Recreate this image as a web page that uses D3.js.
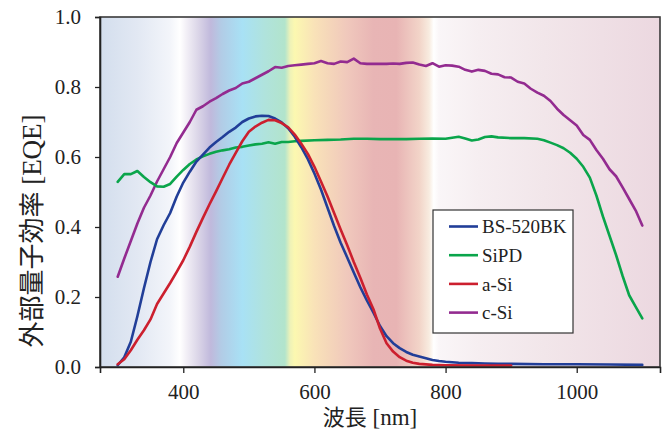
<!DOCTYPE html>
<html>
<head>
<meta charset="utf-8">
<script src="https://cdn.jsdelivr.net/npm/d3@7"></script>
<style>
  html, body { margin: 0; padding: 0; background: #fff; }
  svg { display: block; }
  .serif { font-family: "Liberation Serif", "DejaVu Serif", "Times New Roman", serif; }
  .cjk { font-family: "Noto Sans CJK JP", "Noto Sans CJK SC", sans-serif; }
</style>
</head>
<body>
<svg id="chart" width="669" height="432"></svg>
<script>
// ---- data ----
const xTicks = [400, 600, 800, 1000];
const yTicks = [0, 0.2, 0.4, 0.6, 0.8, 1.0];
const seriesNames = ["BS-520BK", "SiPD", "a-Si", "c-Si"];
const seriesColors = ["#213e98", "#0aa54b", "#cc1f2e", "#932b90"];

const bsWl = [300,310,320,330,340,350,360,370,380,390,400,410,420,430,440,450,460,470,480,490,500,510,520,530,540,550,560,570,580,590,600,610,620,630,640,650,660,670,680,690,700,710,720,730,740,750,760,770,780,790,800,820,840,860,880,900,950,1000,1050,1100];
const bsVal = [0.005,0.028,0.072,0.145,0.225,0.300,0.365,0.405,0.440,0.487,0.527,0.558,0.587,0.607,0.627,0.643,0.657,0.672,0.684,0.700,0.710,0.716,0.718,0.717,0.710,0.699,0.682,0.658,0.628,0.594,0.553,0.507,0.455,0.403,0.355,0.313,0.270,0.228,0.190,0.155,0.117,0.088,0.068,0.054,0.043,0.035,0.030,0.025,0.020,0.017,0.015,0.012,0.011,0.010,0.009,0.009,0.008,0.008,0.007,0.006];

const sipdWl = [300,310,320,330,340,350,360,370,380,390,400,410,420,430,440,450,460,470,480,490,500,510,520,530,540,550,560,570,580,600,620,640,660,680,700,720,740,760,780,800,820,830,840,850,860,870,880,900,920,940,950,960,970,980,990,1000,1010,1020,1030,1040,1050,1060,1070,1080,1090,1100];
const sipdVal = [0.529,0.551,0.551,0.560,0.543,0.528,0.516,0.515,0.523,0.544,0.563,0.580,0.593,0.602,0.609,0.615,0.619,0.622,0.627,0.629,0.633,0.636,0.638,0.642,0.638,0.643,0.643,0.645,0.646,0.648,0.649,0.650,0.652,0.652,0.651,0.651,0.651,0.652,0.653,0.652,0.658,0.653,0.647,0.650,0.657,0.659,0.656,0.654,0.654,0.652,0.648,0.641,0.634,0.625,0.612,0.595,0.572,0.541,0.490,0.430,0.375,0.320,0.260,0.205,0.172,0.139];

const asiWl = [300,310,320,330,340,350,360,370,380,390,400,410,420,430,440,450,460,470,480,490,500,510,520,530,540,550,560,570,580,590,600,610,620,630,640,650,660,670,680,690,700,710,720,730,740,750,760,780,800,850,900];
const asiVal = [0.008,0.022,0.048,0.078,0.105,0.136,0.180,0.210,0.240,0.272,0.305,0.344,0.386,0.426,0.465,0.502,0.540,0.578,0.612,0.645,0.672,0.687,0.698,0.706,0.705,0.697,0.685,0.664,0.638,0.609,0.572,0.530,0.487,0.440,0.393,0.348,0.300,0.255,0.207,0.165,0.110,0.068,0.044,0.028,0.018,0.012,0.009,0.006,0.005,0.004,0.004];

const csiWl = [300,310,320,330,340,350,360,370,380,390,400,410,420,430,440,450,460,470,480,490,500,510,520,530,540,550,560,570,580,590,600,610,620,630,640,650,660,670,680,690,700,710,720,730,740,750,760,770,780,790,800,810,820,830,840,850,860,870,880,890,900,910,920,930,940,950,960,970,980,990,1000,1010,1020,1030,1040,1050,1060,1070,1080,1090,1100];
const csiVal = [0.258,0.310,0.360,0.410,0.455,0.490,0.530,0.565,0.600,0.640,0.670,0.700,0.735,0.745,0.758,0.768,0.780,0.790,0.797,0.810,0.815,0.825,0.835,0.845,0.857,0.855,0.860,0.862,0.864,0.866,0.868,0.874,0.868,0.866,0.873,0.871,0.881,0.868,0.866,0.866,0.866,0.866,0.867,0.866,0.869,0.870,0.864,0.860,0.868,0.858,0.862,0.861,0.858,0.849,0.844,0.849,0.846,0.838,0.836,0.828,0.827,0.815,0.810,0.795,0.784,0.775,0.760,0.738,0.720,0.705,0.690,0.663,0.649,0.620,0.595,0.565,0.545,0.513,0.480,0.447,0.404];

// background spectrum stops (wavelength nm, colour)
const bgWl =  [273,330,380,395,405,425,442,458,490,525,555,563,570,600,650,690,725,760,775,782,790,850,950,1127];
const bgCol = ["#d3deed","#e2e8f3","#f3f5fa","#ffffff","#f2eff6","#d8d2e6","#c0b9dc","#b2cce6","#a8e1f5","#b0e3dc","#b2e4cc","#eef2b8","#fcf8b0","#f9e2b8","#f0c8bc","#e8b5b5","#e8b4b4","#f2d4c8","#f8ece0","#ffffff","#faf6f8","#f6eef1","#f2e6ea","#ecd8e0"];

// ---- layout ----
const svg = d3.select("#chart");
const L = 100, R = 660, T = 17, B = 367;
const x = d3.scaleLinear().domain([273, 1127]).range([L, R]);
const y = d3.scaleLinear().domain([0, 1]).range([B, T]);

// gradient
const defs = svg.append("defs");
const grad = defs.append("linearGradient").attr("id", "spec")
  .attr("x1", "0%").attr("x2", "100%").attr("y1", "0%").attr("y2", "0%");
bgWl.forEach((w, i) => {
  grad.append("stop")
    .attr("offset", ((x(w) - L) / (R - L) * 100) + "%")
    .attr("stop-color", bgCol[i]);
});
defs.append("clipPath").attr("id", "clip").append("rect")
  .attr("x", L).attr("y", T).attr("width", R - L).attr("height", B - T);

svg.append("rect").attr("x", L).attr("y", T).attr("width", R - L).attr("height", B - T)
  .attr("fill", "url(#spec)");

// lines
const series = [
  { wl: bsWl, v: bsVal },
  { wl: sipdWl, v: sipdVal },
  { wl: asiWl, v: asiVal },
  { wl: csiWl, v: csiVal }
];
const line = d3.line().x(d => x(d[0])).y(d => y(d[1]));
const g = svg.append("g").attr("clip-path", "url(#clip)");
[3, 1, 0, 2].forEach(i => {
  const s = series[i];
  g.append("path")
    .datum(s.wl.map((w, j) => [w, s.v[j]]))
    .attr("d", line)
    .attr("fill", "none")
    .attr("stroke", seriesColors[i])
    .attr("stroke-width", 2.6)
    .attr("stroke-linejoin", "round")
    .attr("stroke-linecap", "round");
});

// frame
svg.append("rect").attr("x", L).attr("y", T).attr("width", R - L).attr("height", B - T)
  .attr("fill", "none").attr("stroke", "#3a3a3a").attr("stroke-width", 1.6);

// axes
const xAxis = svg.append("g").attr("transform", `translate(0,${B})`)
  .call(d3.axisBottom(x).tickValues(xTicks).tickSize(6).tickPadding(11).tickFormat(d3.format("d")));
const yAxis = svg.append("g").attr("transform", `translate(${L},0)`)
  .call(d3.axisLeft(y).tickValues(yTicks).tickSize(5).tickPadding(14).tickFormat(d3.format(".1f")));
[xAxis, yAxis].forEach(a => {
  a.attr("font-family", null).attr("font-size", null);
  a.select(".domain").attr("stroke", "#222").attr("stroke-width", 1.6);
  a.selectAll(".tick line").attr("stroke", "#222").attr("stroke-width", 1.3);
  a.selectAll(".tick text").attr("class", "serif").style("font-size", "21px").attr("fill", "#222");
});

// axis titles
const xt = svg.append("text").attr("x", 370).attr("y", 425).attr("text-anchor", "middle")
  .attr("fill", "#222");
xt.append("tspan").attr("class", "cjk").style("font-size", "22px").text("波長");
xt.append("tspan").attr("class", "serif").style("font-size", "23px").text(" [nm]");

const yt = svg.append("text").attr("transform", "translate(41,231) rotate(-90)")
  .attr("text-anchor", "middle").attr("fill", "#222");
yt.append("tspan").attr("class", "cjk").style("font-size", "26px").text("外部量子効率");
yt.append("tspan").attr("class", "serif").style("font-size", "27px").text(" [EQE]");

// legend
const lg = svg.append("g");
lg.append("rect").attr("x", 433).attr("y", 210).attr("width", 140).attr("height", 123)
  .attr("fill", "#fff").attr("stroke", "#333").attr("stroke-width", 1.2);
seriesNames.forEach((n, i) => {
  const yy = 226.5 + i * 28.7;
  lg.append("line").attr("x1", 449).attr("x2", 478).attr("y1", yy).attr("y2", yy)
    .attr("stroke", seriesColors[i]).attr("stroke-width", 2.6);
  lg.append("text").attr("class", "serif").attr("x", 482).attr("y", yy).attr("dy", "0.35em")
    .style("font-size", "19px").attr("fill", "#222").text(n);
});
</script>
</body>
</html>
